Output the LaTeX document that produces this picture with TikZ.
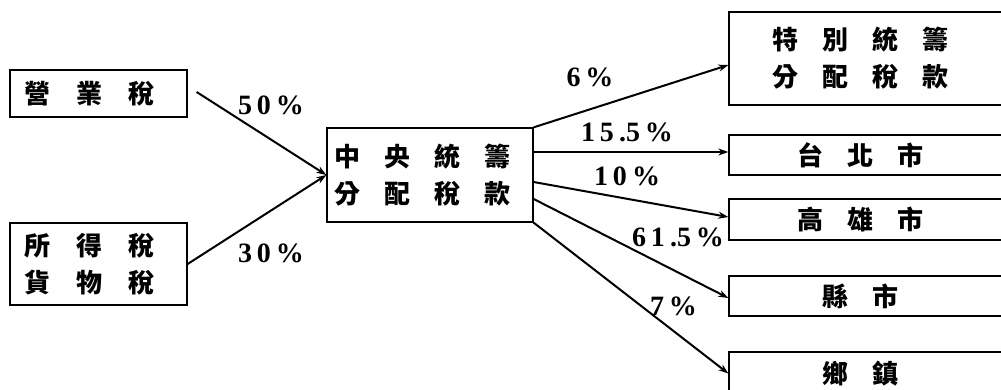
\documentclass[tikz,border=0pt]{standalone}
\usepackage{fontspec}
\setmainfont{Liberation Serif}
\newfontfamily\cjk{Noto Sans CJK TC}
\usetikzlibrary{arrows.meta}
\newcommand\cga{\hspace{26pt}}
\newcommand\cgb{\hspace{24pt}}
\newcommand\lsp{\hspace{5pt}}
\begin{document}
\begin{tikzpicture}[x=1pt,y=-1pt,
  box/.style={draw,line width=1.3pt,inner sep=0pt,align=center,
    font=\cjk\bfseries\fontsize{26}{37}\selectfont},
  pct/.style={font=\bfseries\fontsize{28}{28}\selectfont,inner sep=0pt},
  arr/.style={line width=2pt,-{Stealth[length=10pt,width=7pt]}}]
\useasboundingbox (0,0) rectangle (1001,389);
\begin{scope}
\clip (0,0) rectangle (1001,389);
% left boxes
\node[box,minimum width=177,minimum height=47] (ying) at (98.5,93.5)
  {營\cga 業\cga 稅\hspace*{18pt}};
\node[box,minimum width=177,minimum height=82] (suo) at (98.5,264)
  {所\cga 得\cga 稅\hspace*{18pt}\\貨\cga 物\cga 稅\hspace*{18pt}};
% center
\node[box,minimum width=206,minimum height=94] (zhong) at (430,175)
  {中\cgb 央\cgb 統\cgb 籌\hspace*{15pt}\\分\cgb 配\cgb 稅\cgb 款\hspace*{15pt}};
% right boxes
\node[box,minimum width=281,minimum height=93] (te) at (869.5,58.5)
  {特\cgb 別\cgb 統\cgb 籌\hspace*{19pt}\\分\cgb 配\cgb 稅\cgb 款\hspace*{19pt}};
\node[box,minimum width=281,minimum height=40] (tai) at (869.5,155)
  {台\cgb 北\cgb 市\hspace*{19pt}};
\node[box,minimum width=281,minimum height=41] (gao) at (869.5,219.5)
  {高\cgb 雄\cgb 市\hspace*{19pt}};
\node[box,minimum width=281,minimum height=40] (xian) at (869.5,296)
  {縣\cgb 市\hspace*{19pt}};
\node[box,minimum width=281,minimum height=43] (xiang) at (869.5,373.5)
  {鄉\cgb 鎮\hspace*{19pt}};
% arrows
\draw[arr] ([xshift=9pt,yshift=1.5pt]ying.east) -- (zhong.west);
\draw[arr] (suo.east) -- (zhong.west);
\draw[arr] (zhong.north east) -- ([yshift=-6.5pt]te.west);
\draw[arr] ([yshift=23pt]zhong.east) -- ([yshift=3pt]tai.west);
\draw[arr] ([yshift=-7pt]zhong.east) -- ([yshift=2.5pt]gao.west);
\draw[arr] ([yshift=-24pt]zhong.east) -- ([yshift=-2pt]xian.west);
\draw[arr] (zhong.south east) -- (xiang.west);
% labels
\node[pct] (l50) at (271,105.5) {5\lsp 0\lsp\%};
\node[pct] (l30) at (271,253.5) {3\lsp 0\lsp\%};
\node[pct] (l6) at (590,77.5) {6\lsp\%};
\node[pct] (l155) at (627,132.5) {1\lsp 5\lsp .5\lsp\%};
\node[pct] (l10) at (627,176.5) {1\lsp 0\lsp\%};
\node[pct] (l615) at (678,237.5) {6\lsp 1\lsp .5\lsp\%};
\node[pct] (l7) at (673.5,306) {7\lsp\%};
\end{scope}
\end{tikzpicture}
\end{document}
